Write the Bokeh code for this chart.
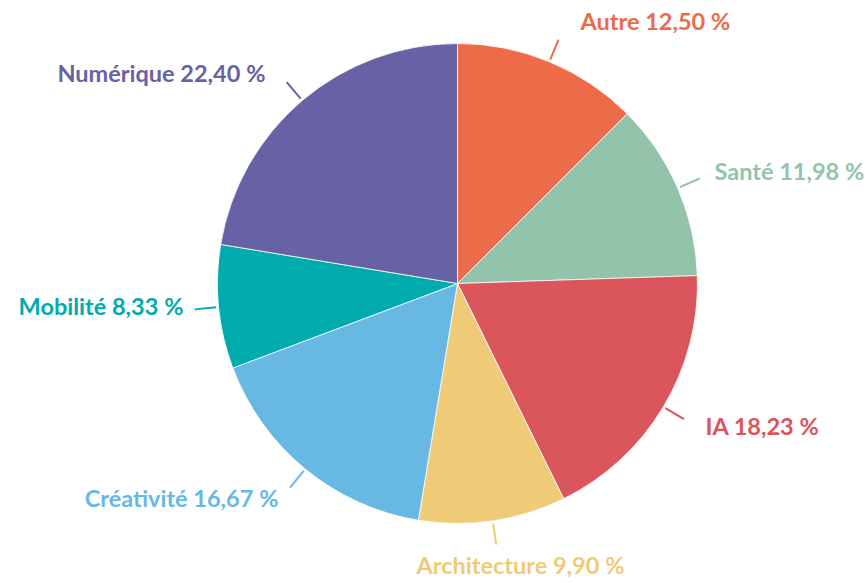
import math
from bokeh.plotting import figure
from bokeh.models import Range1d, ColumnDataSource
from bokeh.core.properties import value
from bokeh.embed import file_html
from bokeh.resources import INLINE

categories = ["Autre", "Santé", "IA", "Architecture", "Créativité", "Mobilité", "Numérique"]
values = [12.50, 11.98, 18.23, 9.90, 16.67, 8.33, 22.40]
colors = ["#EE6B4A", "#93C4AB", "#DA555C", "#EFCB77", "#67B9E4", "#00ABAE", "#6762A5"]
labels = [f"{c} {v:.2f}".replace(".", ",") + "\u202f%" for c, v in zip(categories, values)]

W, H = 868, 583
cx, cy, R = 457, H - 283, 240

# label anchor positions (pixels from top-left, y down) and alignment
label_pos = [(580, 20, "left"), (714, 170, "left"), (705, 425, "left"),
             (520, 564, "center"), (278, 497, "right"), (183, 305, "right"),
             (265, 72, "right")]

total = sum(values)
starts, ends, mids = [], [], []
cum = 0.0
for v in values:
    a0 = math.pi / 2 - 2 * math.pi * cum / total
    cum += v
    a1 = math.pi / 2 - 2 * math.pi * cum / total
    starts.append(a1)
    ends.append(a0)
    mids.append((a0 + a1) / 2)

p = figure(width=W, height=H, output_backend="svg", toolbar_location=None,
           x_range=Range1d(0, W), y_range=Range1d(0, H),
           x_axis_location=None, y_axis_location=None, min_border=0)
p.grid.visible = False
p.outline_line_color = None

src = ColumnDataSource(dict(start=starts, end=ends, color=colors))
p.wedge(x=cx, y=cy, radius=R, start_angle="start", end_angle="end",
        direction="anticlock", fill_color="color", line_color="white",
        line_width=0.8, source=src)

xs, ys = [], []
for m in mids:
    xs.append([cx + R * 1.01 * math.cos(m), cx + R * 1.10 * math.cos(m)])
    ys.append([cy + R * 1.01 * math.sin(m), cy + R * 1.10 * math.sin(m)])
p.multi_line(xs=xs, ys=ys, line_color=colors, line_width=2)

for (lx, ly, al), t, c in zip(label_pos, labels, colors):
    p.text(x=[lx], y=[H - ly], text=[t], text_color=c, text_align=al,
           text_baseline="middle", text_font=value("Lato"),
           text_font_style="bold", text_font_size="23.5px")

open("out.html", "w").write(file_html(p, INLINE))
